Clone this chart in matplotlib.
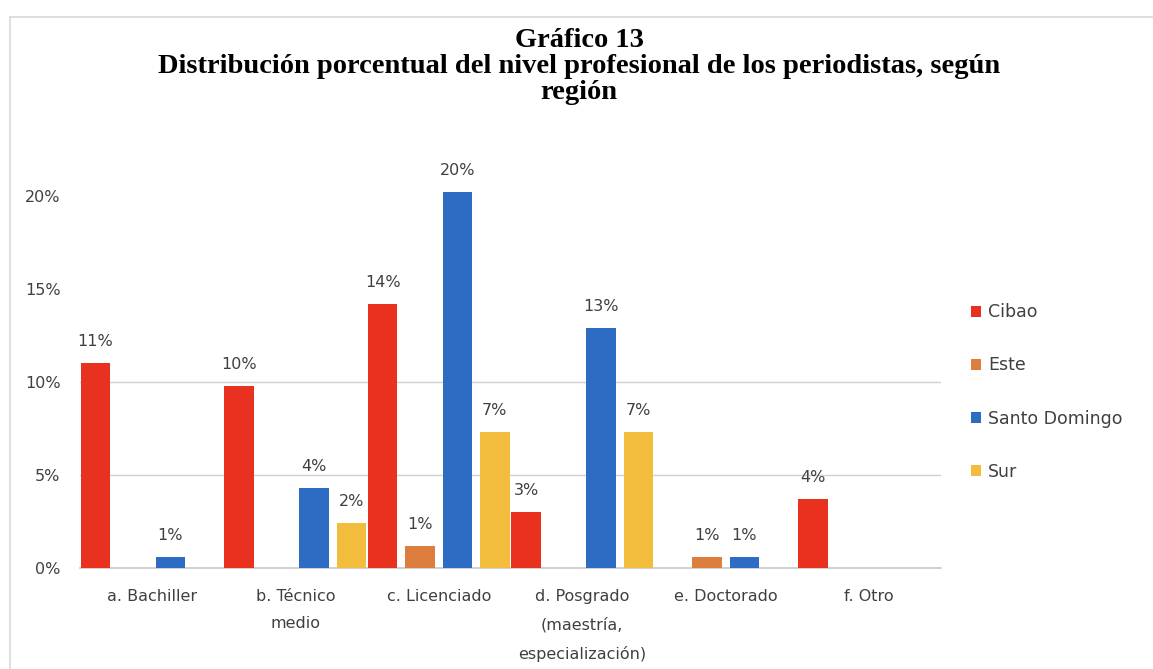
import matplotlib
matplotlib.use("Agg")
import matplotlib.pyplot as plt
import numpy as np
from matplotlib.lines import Line2D

categories = ["a. Bachiller", "b. Técnico\nmedio", "c. Licenciado",
              "d. Posgrado\n(maestría,\nespecialización)", "e. Doctorado", "f. Otro"]
series_names = ["Cibao", "Este", "Santo Domingo", "Sur"]
cibao = [11.0, 9.8, 14.2, 3.0, 0.0, 3.7]
este = [0.0, 0.0, 1.2, 0.0, 0.6, 0.0]
santo_domingo = [0.6, 4.3, 20.2, 12.9, 0.6, 0.0]
sur = [0.0, 2.4, 7.3, 7.3, 0.0, 0.0]
colors = ["#E8321F", "#DE7E3E", "#2E6CC4", "#F2BD3C"]
y_ticks = [0, 5, 10, 15, 20]
y_tick_labels = ["0%", "5%", "10%", "15%", "20%"]

series = [cibao, este, santo_domingo, sur]

fig = plt.figure(figsize=(11.53, 6.69), dpi=100)
ax = fig.add_axes([80 / 1153, 1 - 568 / 669, (941 - 80) / 1153, (568 - 177) / 669])

x = np.arange(len(categories))
step = 0.261
width = 0.205
for i, (vals, name, c) in enumerate(zip(series, series_names, colors)):
    pos = x + (i - 1.5) * step
    ax.bar(pos, vals, width=width, color=c, label=name, zorder=3)
    for p, v in zip(pos, vals):
        if v > 0:
            ax.annotate(f"{round(v)}%", (p, v), xytext=(0, 10), textcoords="offset points",
                        ha="center", va="bottom", fontsize=11.5, color="#404040")

ax.set_xlim(-0.5, len(categories) - 0.5)
ax.set_ylim(0, 21)
ax.set_yticks(y_ticks)
ax.set_yticklabels(y_tick_labels, fontsize=11.5, color="#404040")
ax.set_xticks(x)
ax.set_xticklabels(categories, fontsize=11.5, color="#404040", linespacing=2.05)
ax.tick_params(axis="both", length=0)
ax.tick_params(axis="y", pad=14)
ax.tick_params(axis="x", pad=15)
for yv in [5, 10]:
    ax.axhline(yv, color="#D0D0D0", lw=1, zorder=1)
for s in ["top", "right", "left"]:
    ax.spines[s].set_visible(False)
ax.spines["bottom"].set_color("#C8C8C8")
ax.spines["bottom"].set_linewidth(1.2)

leg = ax.legend(loc="center left", bbox_to_anchor=(955 / 1153, 1 - 392 / 669),
                bbox_transform=fig.transFigure, frameon=False, fontsize=12.5,
                handlelength=0.6, handleheight=0.6, handletextpad=0.4,
                labelspacing=2.02)
for t in leg.get_texts():
    t.set_color("#404040")

fig.text(579 / 1153, 1 - 28 / 669,
         "Gráfico 13\nDistribución porcentual del nivel profesional de los periodistas, según\nregión",
         ha="center", va="top", fontsize=20.5, fontweight="bold", family="Liberation Serif",
         linespacing=1.06)

# outer frame lines
fig.add_artist(Line2D([10 / 1153, 1], [1 - 17 / 669, 1 - 17 / 669], transform=fig.transFigure,
                      color="#D9D9D9", lw=1.2))
fig.add_artist(Line2D([10 / 1153, 10 / 1153], [0, 1 - 17 / 669], transform=fig.transFigure,
                      color="#D9D9D9", lw=1.2))

fig.savefig("out.png", dpi=100)
